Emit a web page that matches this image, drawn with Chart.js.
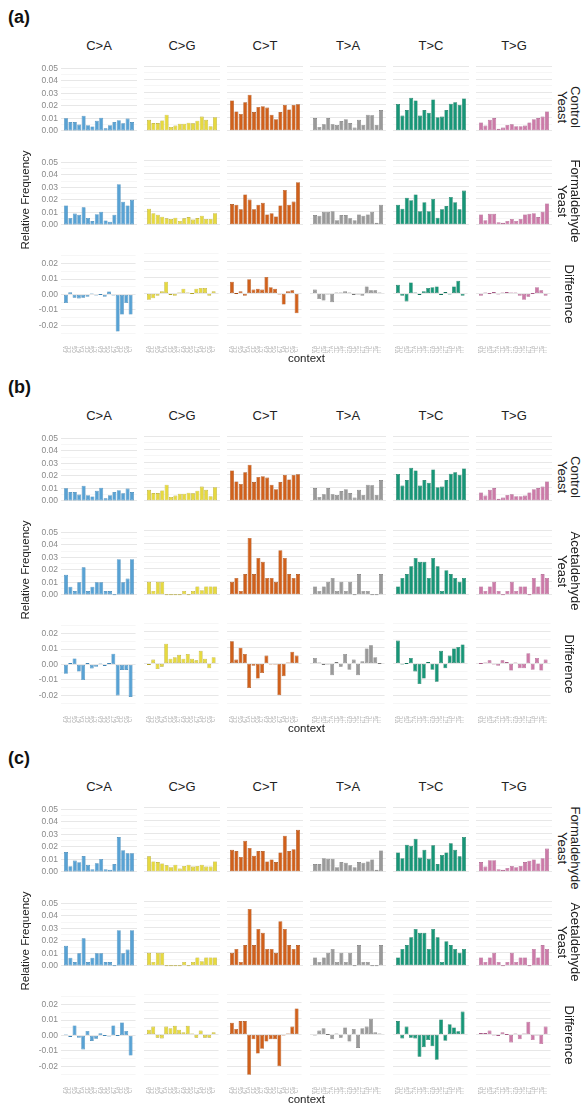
<!DOCTYPE html>
<html><head><meta charset="utf-8">
<script src="https://cdn.jsdelivr.net/npm/chart.js@4.4.1/dist/chart.umd.min.js"></script>
<style>
html,body{margin:0;padding:0;background:#fff;}
body{width:585px;height:1105px;position:relative;overflow:hidden;font-family:"Liberation Sans",Arial,sans-serif;}
.t{position:absolute;white-space:nowrap;color:#222;}
canvas{position:absolute;}
</style></head><body>
<script>
// ---------- categories ----------
const mutationTypes = ['C>A','C>G','C>T','T>A','T>C','T>G'];
const contextsC = ['ACA','ACC','ACG','ACT','CCA','CCC','CCG','CCT','GCA','GCC','GCG','GCT','TCA','TCC','TCG','TCT'];
const contextsT = ['ATA','ATC','ATG','ATT','CTA','CTC','CTG','CTT','GTA','GTC','GTG','GTT','TTA','TTC','TTG','TTT'];
const freqTicks = [0, 0.01, 0.02, 0.03, 0.04, 0.05];
const freqGrid  = [0, 0.005, 0.01, 0.015, 0.02, 0.025, 0.03, 0.035, 0.04, 0.045, 0.05];
const diffTicks = [-0.02, -0.01, 0, 0.01, 0.02];
const diffGrid  = [-0.025, -0.02, -0.015, -0.01, -0.005, 0, 0.005, 0.01, 0.015, 0.02, 0.025];

// ---------- series values (rows: C>A, C>G, C>T, T>A, T>C, T>G) ----------
const controlYeast = [
 [0.0100,0.0070,0.0070,0.0050,0.0120,0.0045,0.0035,0.0080,0.0105,0.0020,0.0045,0.0070,0.0085,0.0060,0.0098,0.0070],
 [0.0085,0.0060,0.0060,0.0080,0.0125,0.0030,0.0040,0.0055,0.0055,0.0062,0.0058,0.0078,0.0110,0.0085,0.0035,0.0105],
 [0.0235,0.0150,0.0130,0.0220,0.0280,0.0145,0.0185,0.0190,0.0180,0.0125,0.0090,0.0145,0.0200,0.0165,0.0200,0.0205],
 [0.0098,0.0030,0.0050,0.0098,0.0050,0.0045,0.0075,0.0090,0.0060,0.0025,0.0085,0.0045,0.0125,0.0120,0.0045,0.0160],
 [0.0208,0.0118,0.0160,0.0255,0.0235,0.0118,0.0160,0.0140,0.0243,0.0105,0.0110,0.0160,0.0210,0.0220,0.0200,0.0250],
 [0.0065,0.0040,0.0085,0.0098,0.0015,0.0025,0.0045,0.0050,0.0035,0.0035,0.0040,0.0065,0.0090,0.0098,0.0110,0.0150]
];
const formaldehydeA = [
 [0.0155,0.0055,0.0090,0.0080,0.0140,0.0055,0.0030,0.0085,0.0105,0.0035,0.0025,0.0080,0.0325,0.0185,0.0155,0.0200],
 [0.0125,0.0090,0.0078,0.0062,0.0050,0.0045,0.0055,0.0030,0.0050,0.0060,0.0040,0.0052,0.0070,0.0045,0.0045,0.0090],
 [0.0160,0.0155,0.0120,0.0235,0.0195,0.0120,0.0155,0.0170,0.0080,0.0090,0.0065,0.0150,0.0270,0.0155,0.0180,0.0330],
 [0.0075,0.0070,0.0100,0.0100,0.0105,0.0035,0.0075,0.0075,0.0050,0.0035,0.0080,0.0070,0.0080,0.0100,0.0015,0.0155],
 [0.0155,0.0125,0.0210,0.0190,0.0235,0.0105,0.0175,0.0105,0.0200,0.0055,0.0120,0.0145,0.0215,0.0175,0.0120,0.0265],
 [0.0080,0.0035,0.0085,0.0085,0.0020,0.0015,0.0030,0.0045,0.0030,0.0045,0.0080,0.0085,0.0090,0.0060,0.0100,0.0165]
];
const formaldehydeC = [
 [0.0158,0.0045,0.0090,0.0077,0.0126,0.0056,0.0021,0.0068,0.0103,0.0021,0.0017,0.0062,0.0278,0.0173,0.0148,0.0148],
 [0.0120,0.0080,0.0075,0.0065,0.0050,0.0035,0.0055,0.0025,0.0045,0.0055,0.0040,0.0045,0.0055,0.0040,0.0040,0.0080],
 [0.0170,0.0160,0.0115,0.0240,0.0185,0.0125,0.0160,0.0160,0.0080,0.0095,0.0075,0.0150,0.0280,0.0160,0.0175,0.0325],
 [0.0060,0.0060,0.0105,0.0100,0.0100,0.0035,0.0075,0.0070,0.0050,0.0035,0.0075,0.0070,0.0080,0.0095,0.0015,0.0165],
 [0.0150,0.0105,0.0210,0.0200,0.0255,0.0110,0.0170,0.0100,0.0205,0.0060,0.0130,0.0150,0.0220,0.0170,0.0120,0.0270],
 [0.0075,0.0040,0.0090,0.0090,0.0020,0.0015,0.0030,0.0045,0.0035,0.0045,0.0075,0.0085,0.0095,0.0065,0.0105,0.0180]
];
const acetaldehydeYeast = [
 [0.0160,0.0065,0.0030,0.0100,0.0220,0.0030,0.0065,0.0100,0.0100,0.0030,0.0030,0,0.0285,0.0100,0.0130,0.0285],
 [0.0100,0.0030,0.0100,0.0100,0,0,0,0,0.0030,0,0.0030,0.0065,0.0035,0.0065,0.0065,0.0065],
 [0.0100,0.0130,0.0030,0.0160,0.0440,0.0160,0.0285,0.0255,0.0130,0.0130,0.0100,0.0345,0.0285,0.0160,0.0130,0.0160],
 [0.0065,0.0030,0.0065,0.0100,0.0130,0.0030,0.0100,0.0030,0.0100,0,0.0160,0.0030,0.0030,0,0,0.0160],
 [0.0065,0.0130,0.0160,0.0220,0.0285,0.0255,0.0255,0.0130,0.0285,0.0220,0.0030,0.0190,0.0160,0.0130,0.0100,0.0130],
 [0.0065,0.0030,0.0065,0.0100,0.0030,0,0.0030,0.0100,0.0030,0.0065,0.0065,0,0.0130,0.0065,0.0160,0.0130]
];
const differenceA = [
 [-0.0055,0.0015,-0.0020,-0.0025,-0.0020,-0.0015,0.0005,-0.0005,0,-0.0015,0.0020,-0.0005,-0.0240,-0.0130,-0.0055,-0.0130],
 [-0.0040,-0.0030,-0.0015,0.0015,0.0075,-0.0010,-0.0015,0.0005,0.0030,0.0005,0,0.0030,0.0035,0.0035,-0.0015,0.0015],
 [0.0075,0,0.0015,-0.0015,0.0090,0.0025,0.0030,0.0025,0.0105,0.0040,0.0030,-0.0005,-0.0070,0.0015,0.0020,-0.0125],
 [0.0025,-0.0035,-0.0045,-0.0005,-0.0055,0.0005,0.0005,0.0015,0.0005,-0.0010,-0.0005,-0.0015,0.0045,0.0020,0.0020,0.0005],
 [0.0055,-0.0015,-0.0050,0.0070,0.0005,-0.0010,0.0015,0.0035,0.0040,0.0045,-0.0010,0.0010,-0.0005,0.0045,0.0080,-0.0015],
 [-0.0015,0.0005,0,0.0010,-0.0005,0.0005,0.0010,0.0005,0.0005,-0.0015,-0.0040,-0.0020,0,0.0040,0.0020,-0.0015]
];
const differenceB = [
 [-0.0060,0.0010,0.0040,-0.0045,-0.0100,0.0010,-0.0025,-0.0015,0.0005,-0.0010,0.0010,0.0070,-0.0200,-0.0035,-0.0035,-0.0210],
 [-0.0010,0.0025,-0.0035,-0.0020,0.0125,0.0030,0.0040,0.0055,0.0030,0.0060,0.0030,0.0020,0.0080,0.0030,-0.0030,0.0040],
 [0.0140,0.0025,0.0100,0.0060,-0.0155,-0.0015,-0.0095,-0.0060,0.0050,-0.0005,-0.0005,-0.0200,-0.0080,0.0005,0.0075,0.0050],
 [0.0035,0.0005,-0.0010,-0.0005,-0.0075,0.0010,-0.0020,0.0060,-0.0040,0.0025,-0.0075,0.0015,0.0095,0.0115,0.0040,0],
 [0.0145,-0.0005,0,0.0035,-0.0050,-0.0130,-0.0095,0.0010,-0.0040,-0.0115,0.0080,-0.0030,0.0050,0.0095,0.0105,0.0120],
 [0,0.0005,0.0020,-0.0005,-0.0015,0.0020,0.0010,-0.0045,0.0005,-0.0030,-0.0030,0.0065,-0.0040,0.0035,-0.0045,0.0025]
];
const differenceC = [
 [0.0005,-0.0010,0.0065,-0.0015,-0.0090,0.0030,-0.0035,-0.0020,0.0015,0,-0.0005,0.0065,0,0.0085,0.0030,-0.0130],
 [0.0030,0.0050,-0.0020,-0.0025,0.0050,0.0040,0.0055,0.0030,0.0015,0.0055,0.0005,-0.0020,0.0025,-0.0020,-0.0020,0.0015],
 [0.0075,0.0035,0.0085,0.0085,-0.0255,-0.0030,-0.0120,-0.0090,-0.0045,-0.0030,-0.0030,-0.0200,-0.0005,0.0005,0.0050,0.0165],
 [-0.0005,0.0025,0.0040,0,-0.0030,0.0005,-0.0020,0.0045,-0.0045,0.0035,-0.0085,0.0040,0.0050,0.0100,0.0015,0.0005],
 [0.0085,-0.0025,0.0050,-0.0020,-0.0025,-0.0140,-0.0080,-0.0035,-0.0075,-0.0160,0.0095,-0.0040,0.0065,0.0045,0.0020,0.0145],
 [0.0010,0.0010,0.0025,-0.0005,-0.0010,0.0015,0,-0.0050,0.0005,-0.0030,0.0005,0.0080,-0.0035,-0.0005,-0.0060,0.0050]
];

const panelLabels = ['(a)','(b)','(c)'];
const rowNames = [
 ['Control\nYeast','Formaldehyde\nYeast','Difference'],
 ['Control\nYeast','Acetaldehyde\nYeast','Difference'],
 ['Formaldehyde\nYeast','Acetaldehyde\nYeast','Difference']
];
const panelSeries = [
 [controlYeast, formaldehydeA, differenceA],
 [controlYeast, acetaldehydeYeast, differenceB],
 [formaldehydeC, acetaldehydeYeast, differenceC]
];

// ---------- styling / layout ----------
const FONT = '"Liberation Sans", Arial, sans-serif';
const fills   = ['#58a2d4','#e6d93f','#d0601b','#9a9a9a','#179677','#cc7aa8'];
const borders = ['#3c82b3','#b0a224','#a44a10','#767676','#0e7259','#a65a86'];
const panelTop = [0, 370, 741];
const colLeft = [61, 144, 227, 310, 393, 476];
const colW = 76;
const rowTop = [63, 157, 250];
const rowH = 87;
const yAxisW = 24;
const PAD = 6;
const XAXIS_H = 16;

function addText(txt, css){
  const d = document.createElement('div');
  d.className = 't';
  d.textContent = txt;
  Object.assign(d.style, css);
  document.body.appendChild(d);
  return d;
}
function isIn(list, v){ return list.some(t => Math.abs(t - v) < 1e-9); }

function makeFacet(p, r, c){
  const values = panelSeries[p][r][c];
  const isDiff = (r === 2);
  const showX = (r === 2);
  const ctxs = c < 3 ? contextsC : contextsT;
  const grid = isDiff ? diffGrid : freqGrid;
  const ticks = isDiff ? diffTicks : freqTicks;
  const axW = c === 0 ? yAxisW : 0;
  const cv = document.createElement('canvas');
  const w = colW + axW;
  const h = PAD + rowH + (showX ? XAXIS_H : PAD);
  cv.width = w; cv.height = h;
  cv.style.left = (colLeft[c] - axW) + 'px';
  cv.style.top = (panelTop[p] + rowTop[r] - PAD) + 'px';
  cv.style.width = w + 'px'; cv.style.height = h + 'px';
  document.body.appendChild(cv);
  new Chart(cv, {
    type: 'bar',
    data: { datasets: [{
      data: values.map((v, i) => ({ x: i + 1, y: v })),
      backgroundColor: fills[c], borderColor: borders[c], borderWidth: 0.6,
      borderSkipped: false, barPercentage: 0.9, categoryPercentage: 1, minBarLength: 1
    }]},
    options: {
      responsive: false, animation: false, devicePixelRatio: 1, events: [],
      layout: { autoPadding: false, padding: { top: PAD, bottom: showX ? 0 : PAD, left: 0, right: 0 } },
      plugins: { legend: { display: false }, tooltip: { enabled: false } },
      scales: {
        x: {
          type: 'linear', min: 0.4, max: 16.6, display: showX,
          afterBuildTicks: s => { s.ticks = ctxs.map((_, i) => ({ value: i + 1 })); },
          afterFit: s => { s.height = XAXIS_H; },
          ticks: { autoSkip: false, minRotation: 90, maxRotation: 90, padding: 1,
                   font: { size: 4.5, family: FONT }, color: '#a8a8a8',
                   callback: v => ctxs[v - 1] },
          grid: { display: false }, border: { display: false }
        },
        y: {
          min: isDiff ? -0.0275 : -0.0025, max: isDiff ? 0.0275 : 0.0525,
          afterBuildTicks: s => { s.ticks = grid.map(v => ({ value: v })); },
          afterFit: s => { s.width = axW; },
          ticks: { display: c === 0, autoSkip: false, padding: 3, font: { size: 8.5, family: FONT }, color: '#8a8a8a',
                   callback: v => isIn(ticks, v) ? (Math.abs(v) < 1e-9 ? '0.00' : v.toFixed(2)) : '' },
          grid: { drawTicks: false,
                  color: ctx => isIn(ticks, ctx.tick.value) ? '#e4e4e4' : '#f0f0f0',
                  lineWidth: ctx => isIn(ticks, ctx.tick.value) ? 0.9 : 0.6 },
          border: { display: false }
        }
      }
    }
  });
}

for (let p = 0; p < 3; p++) {
  const off = panelTop[p];
  addText(panelLabels[p], { left: '8px', top: (off + 7) + 'px', font: 'bold 18px ' + FONT, color: '#111' });
  mutationTypes.forEach((m, c) => {
    addText(m, { left: colLeft[c] + 'px', width: colW + 'px', textAlign: 'center', top: (off + 38) + 'px', font: '13px ' + FONT });
  });
  for (let r = 0; r < 3; r++) {
    for (let c = 0; c < 6; c++) makeFacet(p, r, c);
    const cy = off + rowTop[r] + rowH / 2;
    const d = addText('', { left: '569px', top: cy + 'px', font: '13px ' + FONT, lineHeight: '13px',
      textAlign: 'center', transform: 'translate(-50%,-50%) rotate(90deg)', whiteSpace: 'pre' });
    d.textContent = rowNames[p][r];
  }
  addText('Relative Frequency', { left: '25px', top: (off + rowTop[0] + (rowTop[2] + rowH - rowTop[0]) / 2) + 'px',
    font: '11.5px ' + FONT, transform: 'translate(-50%,-50%) rotate(-90deg)', color: '#222' });
  addText('context', { left: colLeft[0] + 'px', width: (colLeft[5] + colW - colLeft[0]) + 'px', textAlign: 'center',
    top: (off + 352) + 'px', font: '11.5px ' + FONT, color: '#222' });
}
</script>
</body></html>
